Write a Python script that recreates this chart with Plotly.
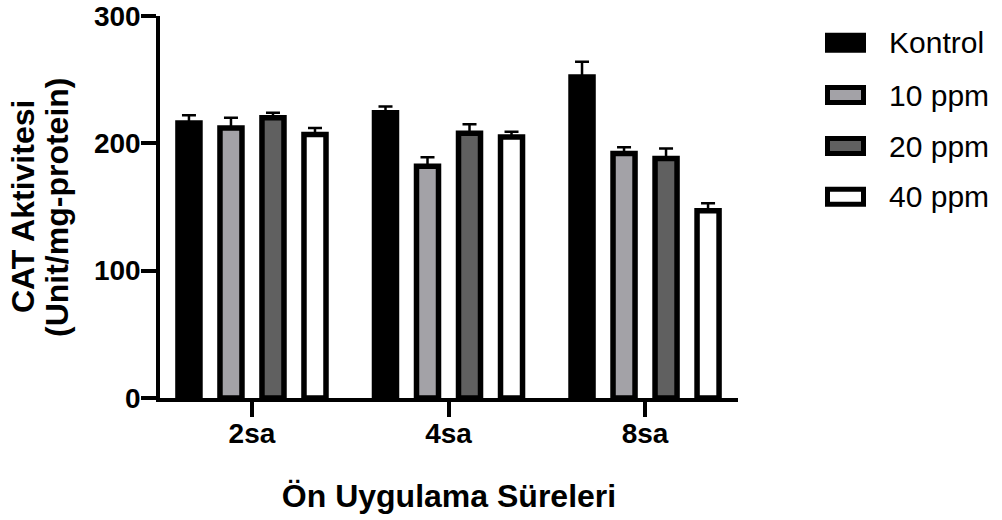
import plotly.graph_objects as go

# ---- data ----
categories = ["2sa", "4sa", "8sa"]
series_names = ["Kontrol", "10 ppm", "20 ppm", "40 ppm"]
kontrol = [216, 224, 252]
ppm10 = [212, 182, 192]
ppm20 = [220, 208, 188]
ppm40 = [207, 205, 147]
kontrol_err = [6, 5, 12]
ppm10_err = [8, 7, 5]
ppm20_err = [4, 7, 8]
ppm40_err = [5, 4, 6]
y_ticks = [0, 100, 200, 300]
y_title_lines = ["CAT Aktivitesi", "(Unit/mg-protein)"]
x_title = "Ön Uygulama Süreleri"

values = [kontrol, ppm10, ppm20, ppm40]
errors = [kontrol_err, ppm10_err, ppm20_err, ppm40_err]
fills = ["#000000", "#a3a2a7", "#606060", "#ffffff"]

FONT = "Liberation Sans, Arial, Helvetica, sans-serif"
W, H = 1002, 520
L, R, T, B = 160, 264, 16, 122
PW, PH = W - L - R, H - T - B

fig = go.Figure()
for name, v, e, c in zip(series_names, values, errors, fills):
    fig.add_trace(go.Bar(
        x=categories, y=v, name=name,
        marker=dict(color=c, line=dict(color="#000000", width=5.5)),
        error_y=dict(type="data", array=e, symmetric=False,
                     arrayminus=[0] * len(e), color="#000000",
                     thickness=2.5, width=7),
        showlegend=False,
    ))

def px_x(px):
    return (px - L) / PW

def px_y(py):
    return (H - B - py) / PH

# custom legend (large symbols like the reference)
row_y = [42.7, 95, 146, 196.7]
shapes = []
annotations = []
for name, c, ry in zip(series_names, fills, row_y):
    shapes.append(dict(type="rect", xref="paper", yref="paper",
                       x0=px_x(827.5), x1=px_x(863.5),
                       y0=px_y(ry + 7.5), y1=px_y(ry - 7.5),
                       fillcolor=c, line=dict(color="#000000", width=5)))
    annotations.append(dict(xref="paper", yref="paper", x=px_x(887), y=px_y(ry),
                            text=name, showarrow=False, xanchor="left",
                            yanchor="middle",
                            font=dict(family=FONT, size=30, color="#000000")))

# y-axis title, two tightly spaced lines
for line, cx in zip(y_title_lines, [23, 57]):
    annotations.append(dict(xref="paper", yref="paper", x=px_x(cx), y=0.5,
                            text="<b>%s</b>" % line, showarrow=False,
                            textangle=-90, xanchor="center", yanchor="middle",
                            font=dict(family=FONT, size=32, color="#000000")))

fig.update_layout(
    width=W, height=H,
    margin=dict(l=L, r=R, t=T, b=B, autoexpand=False),
    paper_bgcolor="#ffffff", plot_bgcolor="#ffffff",
    barmode="group", bargap=0.145, bargroupgap=0.476,
    font=dict(family=FONT, color="#000000"),
    shapes=shapes, annotations=annotations,
    xaxis=dict(
        type="category", range=[-0.468, 2.473], automargin=False,
        showline=True, linecolor="#000000", linewidth=3.5,
        ticks="outside", ticklen=15, tickwidth=3.5, tickcolor="#000000",
        showgrid=False, zeroline=False, ticklabelstandoff=-7,
        tickfont=dict(family=FONT, size=28, color="#000000", weight="bold"),
        title=dict(text="<b>%s</b>" % x_title, standoff=37,
                   font=dict(family=FONT, size=32, color="#000000")),
    ),
    yaxis=dict(
        range=[0, 300], tickvals=y_ticks, automargin=False,
        showline=True, linecolor="#000000", linewidth=3.5,
        ticks="outside", ticklen=15, tickwidth=3.5, tickcolor="#000000",
        showgrid=False, zeroline=False, ticklabelstandoff=-5,
        tickfont=dict(family=FONT, size=28, color="#000000", weight="bold"),
    ),
)

fig.write_html("out.html", config={"displayModeBar": False},
               post_script="document.body.style.margin='0';")
